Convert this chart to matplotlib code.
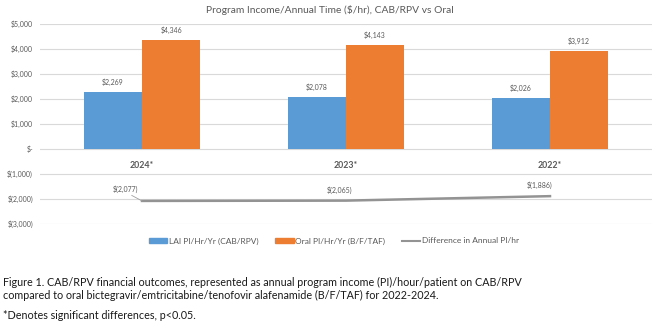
import matplotlib
matplotlib.use("Agg")
import matplotlib.pyplot as plt
from matplotlib.patches import Patch
from matplotlib.lines import Line2D
import numpy as np

categories = ["2024*", "2023*", "2022*"]
lai_values = [2269, 2078, 2026]
oral_values = [4346, 4143, 3912]
diff_values = [-2077, -2065, -1886]
diff_labels = ["$(2,077)", "$(2,065)", "$(1,886)"]
ytick_values = [5000, 4000, 3000, 2000, 1000, 0, -1000, -2000, -3000]
ytick_labels = ["$5,000", "$4,000", "$3,000", "$2,000", "$1,000", "$-",
                "$(1,000)", "$(2,000)", "$(3,000)"]
legend_labels = ["LAI PI/Hr/Yr (CAB/RPV)", "Oral PI/Hr/Yr (B/F/TAF)",
                 "Difference in Annual PI/hr"]
title = "Program Income/Annual Time ($/hr), CAB/RPV vs Oral"
caption1 = ("Figure 1. CAB/RPV financial outcomes, represented as annual program income (PI)/hour/patient on CAB/RPV\n"
            "compared to oral bictegravir/emtricitabine/tenofovir alafenamide (B/F/TAF) for 2022-2024.")
caption2 = "*Denotes significant differences, p<0.05."

plt.rcParams['font.family'] = ['Lato', 'DejaVu Sans']

BLUE = "#5B9BD5"
ORANGE = "#ED7D31"
GRAY_LINE = "#939393"
TXT = "#595959"

fig = plt.figure(figsize=(6.57, 3.36), dpi=100)
ax = fig.add_axes([40/657, 1-224/336, 612/657, 200/336])

x = np.arange(len(categories))
w = 0.285
ax.bar(x - w/2, lai_values, w, color=BLUE, zorder=3)
ax.bar(x + w/2, oral_values, w, color=ORANGE, zorder=3)
ax.plot(x, diff_values, color=GRAY_LINE, lw=1.8, zorder=4)

for xi, v in zip(x, lai_values):
    ax.text(xi - w/2, v + 250, f"${v:,}", ha="center", va="bottom", fontsize=5.0, color=TXT)
for xi, v in zip(x, oral_values):
    ax.text(xi + w/2, v + 250, f"${v:,}", ha="center", va="bottom", fontsize=5.0, color=TXT)

# difference labels
offsets = [(-0.08, 300), (-0.03, 250), (-0.05, 300)]
for xi, v, lab, (dx, dy) in zip(x, diff_values, diff_labels, offsets):
    ax.text(xi + dx, v + dy, lab, ha="center", va="bottom", fontsize=5.0, color=TXT)
ax.plot([x[0] - 0.05, x[0]], [diff_values[0] + 220, diff_values[0]], color="#A0A0A0", lw=0.6, zorder=4)

for xi, c in zip(x, categories):
    ax.text(xi, -480, c, ha="center", va="top", fontsize=6.3, fontweight="bold", color=TXT)

ax.set_xlim(-0.5, 2.5)
ax.set_ylim(-3000, 5000)
ax.set_yticks(ytick_values)
ax.set_yticklabels(ytick_labels, fontsize=5.0, color=TXT)
ax.set_xticks([])
ax.grid(axis="y", color="#D9D9D9", lw=0.8, zorder=0)
for s in ax.spines.values():
    s.set_visible(False)
ax.tick_params(axis="y", length=0, pad=5)

fig.text(330/657, 1-10/336, title, ha="center", va="center", fontsize=7.4, color=TXT)

handles = [Patch(color=BLUE), Patch(color=ORANGE), Line2D([0], [0], color=GRAY_LINE, lw=1.5)]
fig.legend(handles, legend_labels, loc="center", bbox_to_anchor=(334/657, 1-241/336),
           ncol=3, frameon=False, fontsize=6, labelcolor=TXT, handlelength=2.2,
           handleheight=0.6, handletextpad=0.2, columnspacing=2.0)

fig.text(3/657, 1-277/336, caption1, ha="left", va="top", fontsize=7.75, color="#1a1a1a",
         linespacing=1.25)
fig.text(3/657, 1-310/336, caption2, ha="left", va="top", fontsize=7.75, color="#1a1a1a")

fig.savefig("out.png", dpi=100, facecolor="white")
